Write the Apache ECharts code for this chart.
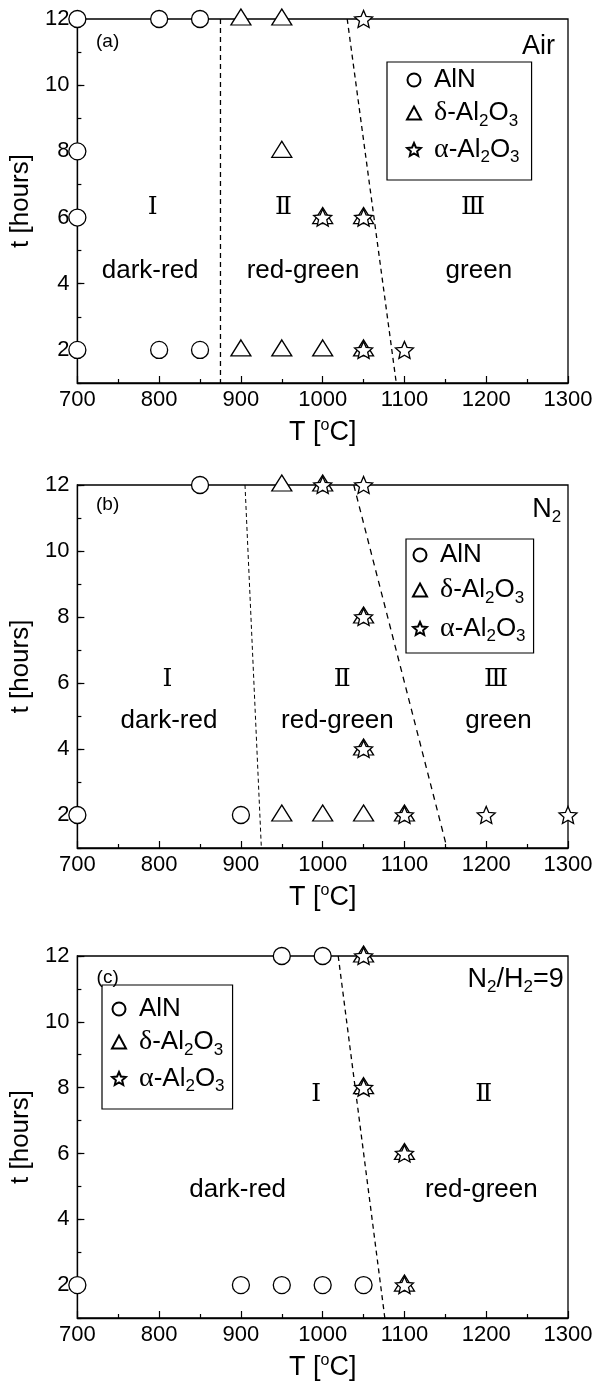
<!DOCTYPE html>
<html><head><meta charset="utf-8">
<script src="https://cdn.jsdelivr.net/npm/echarts@6/dist/echarts.min.js"></script>
<style>html,body{margin:0;padding:0;background:#fff}#c{width:601px;height:1388px}</style>
</head><body><div id="c"></div>
<script>
// ---- data ----
const tLabels = [2, 4, 6, 8, 10, 12];
const names = ['AlN', 'δ-Al2O3', 'α-Al2O3'];

const alnA = [[700,12],[800,12],[850,12],[700,8],[700,6],[700,2],[800,2],[850,2]];
const deltaA = [[900,12],[950,12],[950,8],[1000,6],[1050,6],[900,2],[950,2],[1000,2],[1050,2]];
const alphaA = [[1050,12],[1000,6],[1050,6],[1050,2],[1100,2]];
const boundA1 = [[875,12],[875,1]];
const boundA2 = [[1030,12],[1090,1]];
const notesA = [['(a)',737,11.3],['Air',1264,11.16],['Ⅰ',792,6.3],['Ⅱ',952,6.3],['Ⅲ',1184,6.3],['dark-red',789,4.38],['red-green',976,4.38],['green',1191,4.38]];

const alnB = [[850,12],[700,2],[900,2]];
const deltaB = [[950,12],[1000,12],[1050,8],[1050,4],[950,2],[1000,2],[1050,2],[1100,2]];
const alphaB = [[1000,12],[1050,12],[1050,8],[1050,4],[1100,2],[1200,2],[1300,2]];
const boundB1 = [[905,12],[925,1]];
const boundB2 = [[1038,12],[1152,1]];
const notesB = [['(b)',737,11.39],['N2',1274,11.25],['Ⅰ',810,6.12],['Ⅱ',1024,6.12],['Ⅲ',1212,6.12],['dark-red',812,4.85],['red-green',1018,4.85],['green',1215,4.85]];

const alnC = [[950,12],[1000,12],[700,2],[900,2],[950,2],[1000,2],[1050,2]];
const deltaC = [[1050,12],[1050,8],[1100,6],[1100,2]];
const alphaC = [[1050,12],[1050,8],[1100,6],[1100,2]];
const boundC1 = [[1019,12],[1076,1]];
const notesC = [['(c)',737,11.33],['N2/H2=9',1236,11.28],['Ⅰ',992,7.79],['Ⅱ',1197,7.79],['dark-red',896,4.88],['red-green',1194,4.88]];

// ---- layout / style ----
const FONT = 'Liberation Sans, Arial, sans-serif';
const STAR = 'path://M50,0L63.5,31.4L97.6,34.5L71.8,57.4L79.4,90.5L50,73L20.6,90.5L28.2,57.4L2.4,34.5L36.5,31.4Z';
const panels = [
  {aln: alnA, delta: deltaA, alpha: alphaA, bounds: [[boundA1,[5,4],1.3],[boundA2,[5,4],1.3]], notes: notesA, top: 19, height: 364,
   leg: {left: 387, top: 62, pad: [5, 12, 14, 19], gap: 6}},
  {aln: alnB, delta: deltaB, alpha: alphaB, bounds: [[boundB1,[4,3],1],[boundB2,[6,5],1.3]], notes: notesB, top: 485, height: 363,
   leg: {left: 406, top: 539, pad: [3, 8, 8, 6], gap: 8}},
  {aln: alnC, delta: deltaC, alpha: alphaC, bounds: [[boundC1,[5,4],1.3]], notes: notesC, top: 956, height: 362,
   leg: {left: 102, top: 985, pad: [11, 8, 14, 9], gap: 6}}
];

function legendFmt(n) {
  if (n === 'AlN') return '{p|}{n|AlN}';
  const g = n.charAt(0);
  return '{p|}{g|' + g + '}{n|-Al}{s|2}{n|O}{s|3}';
}
function noteFmt(t) {
  if (t === 'N2') return '{n|N}{s|2}';
  if (t === 'N2/H2=9') return '{n|N}{s|2}{n|/H}{s|2}{n|=9}';
  if (/^[ⅠⅡⅢ]$/.test(t)) return '{r|' + t + '}';
  if (t.charAt(0) === '(') return '{t|' + t + '}';
  if (t === 'Air') return '{n|' + t + '}';
  return '{d|' + t + '}';
}
const TB = {textBorderWidth: 0, textShadowBlur: 0, opacity: 1, color: '#000'};
const noteRich = {
  n: Object.assign({fontFamily: FONT, fontSize: 27}, TB),
  s: Object.assign({fontFamily: FONT, fontSize: 17, padding: [16, 0, 0, 0]}, TB),
  r: Object.assign({fontFamily: 'DejaVu Serif, Liberation Serif, serif', fontSize: 25}, TB),
  t: Object.assign({fontFamily: FONT, fontSize: 19}, TB),
  d: Object.assign({fontFamily: FONT, fontSize: 26}, TB)
};

const option = {
  animation: false,
  backgroundColor: '#fff',
  grid: [], xAxis: [], yAxis: [], series: [], legend: []
};

panels.forEach((p, i) => {
  option.grid.push({left: 77, width: 491, top: p.top, height: p.height, show: true, borderColor: '#000', borderWidth: 1.3, backgroundColor: 'transparent'});
  option.xAxis.push({
    type: 'value', gridIndex: i, min: 700, max: 1300, interval: 100,
    axisLine: {lineStyle: {color: '#000', width: 1.3}},
    axisTick: {inside: true, length: 7, lineStyle: {color: '#000', width: 1.2}},
    minorTick: {show: true, splitNumber: 2, length: 4, lineStyle: {color: '#000', width: 1.2}},
    axisLabel: {color: '#000', fontFamily: FONT, fontSize: 22, margin: 6, formatter: v => String(v)},
    splitLine: {show: false},
    name: 'T [{o|o}C]', nameLocation: 'middle', nameGap: 35,
    nameTextStyle: {color: '#000', fontFamily: FONT, fontSize: 27, rich: {o: {fontFamily: FONT, fontSize: 16, color: '#000', padding: [0, 0, 14, 0]}}}
  });
  option.yAxis.push({
    type: 'value', gridIndex: i, min: 1, max: 12, interval: 1, position: 'left',
    axisLine: {lineStyle: {color: '#000', width: 1.3}},
    axisTick: {inside: true, length: 4, lineStyle: {color: '#000', width: 1.2}},
    axisLabel: {color: '#000', fontFamily: FONT, fontSize: 22, margin: 8, customValues: tLabels},
    splitLine: {show: false},
    name: 't [hours]', nameLocation: 'middle', nameGap: 30,
    nameTextStyle: {color: '#000', fontFamily: FONT, fontSize: 26}
  });
  option.yAxis.push({
    type: 'value', gridIndex: i, min: 1, max: 12, interval: 1, position: 'left',
    axisLine: {show: false},
    axisTick: {inside: true, length: 7, lineStyle: {color: '#000', width: 1.2}, customValues: tLabels},
    axisLabel: {show: false}, splitLine: {show: false}
  });
  const yi = i * 2;
  p.bounds.forEach(b => {
    option.series.push({type: 'line', xAxisIndex: i, yAxisIndex: yi, data: b[0], symbol: 'none', clip: false, silent: true, z: 1,
      lineStyle: {color: '#000', width: b[2], type: b[1]}});
  });
  const ms = {color: '#fff', borderColor: '#000', borderWidth: 1.3, opacity: 1};
  option.series.push({name: names[0], type: 'scatter', xAxisIndex: i, yAxisIndex: yi, data: p.aln, symbol: 'circle', symbolSize: 17, clip: false, itemStyle: ms, z: 3});
  option.series.push({name: names[1], type: 'scatter', xAxisIndex: i, yAxisIndex: yi, data: p.delta, symbol: 'triangle', symbolSize: [20, 16], symbolOffset: [0, -2], clip: false, itemStyle: ms, z: 4});
  option.series.push({name: names[2], type: 'scatter', xAxisIndex: i, yAxisIndex: yi, data: p.alpha, symbol: STAR, symbolSize: [18, 17], clip: false, itemStyle: ms, z: 5});
  option.series.push({type: 'scatter', xAxisIndex: i, yAxisIndex: yi, symbolSize: 0, silent: true, clip: false, z: 6,
    itemStyle: {opacity: 1},
    data: p.notes.map(n => ({value: [n[1], n[2]], text: n[0]})),
    label: Object.assign({show: true, position: 'inside', formatter: q => noteFmt(q.data.text), rich: noteRich}, TB)});
  option.legend.push({
    left: p.leg.left, top: p.leg.top, orient: 'vertical', data: names, selectedMode: false,
    borderColor: '#000', borderWidth: 1.2, borderRadius: 0, padding: p.leg.pad,
    itemGap: p.leg.gap, itemWidth: 14, itemHeight: 13, formatter: legendFmt,
    textStyle: {color: '#000', fontFamily: FONT, fontSize: 26, rich: {
      p: {width: 8},
      n: {fontFamily: FONT, fontSize: 26, color: '#000', lineHeight: 30},
      g: {fontFamily: 'Liberation Serif, serif', fontSize: 28, color: '#000', lineHeight: 30},
      s: {fontFamily: FONT, fontSize: 17, color: '#000', padding: [16, 0, 0, 0]}
    }}
  });
});

const chart = echarts.init(document.getElementById('c'), null, {renderer: 'canvas'});
chart.setOption(option);
</script>
</body></html>
